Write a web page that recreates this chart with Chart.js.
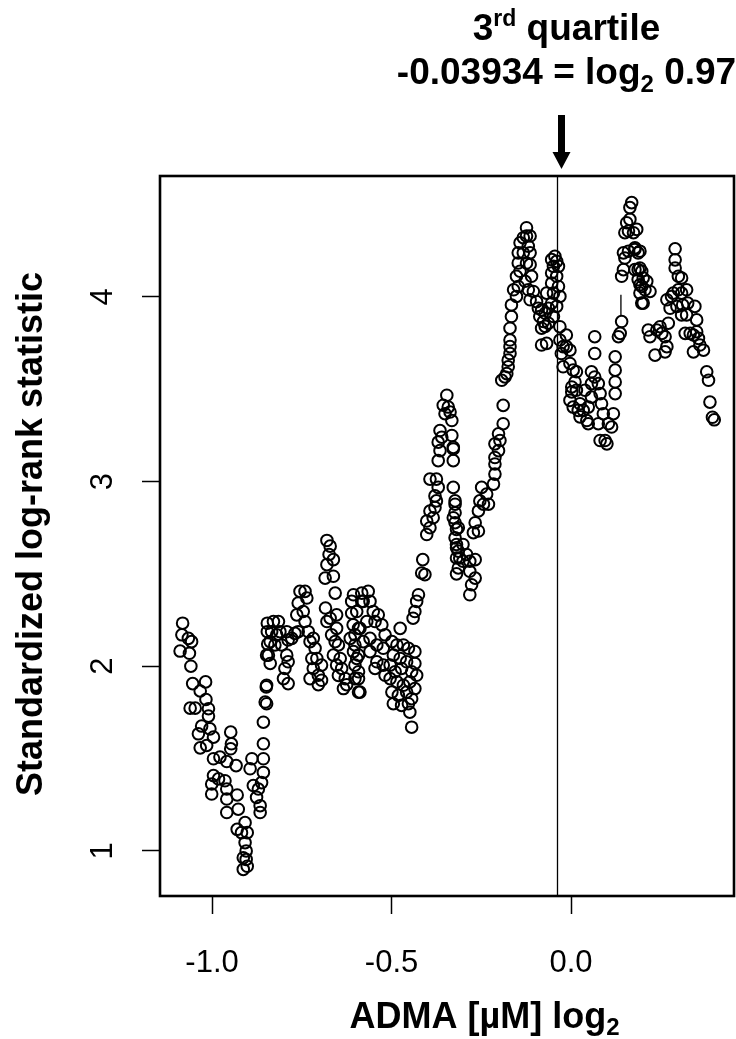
<!DOCTYPE html>
<html>
<head>
<meta charset="utf-8">
<script src="https://cdn.jsdelivr.net/npm/chart.js@4.4.1/dist/chart.umd.min.js"></script>
<style>
  html, body { margin: 0; padding: 0; background: #fff; }
  canvas { display: block; }
</style>
</head>
<body>
<canvas id="chart" width="736" height="1039" style="width:736px;height:1039px"></canvas>
<script>
// Statistique du log-rank standardisée selon le point de coupure ADMA (log2)

const xTicks = [-1.0, -0.5, 0.0];
const yTicks = [1, 2, 3, 4];
const xTickLabels = ['-1.0', '-0.5', '0.0'];
const yTickLabels = ['1', '2', '3', '4'];
const thirdQuartile = -0.03934;

// cutpoints (ADMA log2) and standardized log-rank statistic
const admaLog2 = [
  -1.082, -1.084, -1.066, -1.057, -1.089, -1.063, -1.059, -1.054, -1.018, -1.033,
  -1.017, -1.061, -1.047, -1.010, -1.010, -1.029, -1.006, -1.038, -0.996, -1.033,
  -1.015, -0.948, -0.946, -0.948, -0.996, -0.978, -0.959, -0.933, -0.996, -0.982,
  -1.001, -0.964, -0.959, -1.001, -0.959, -0.930, -0.959, -0.927, -0.930, -0.918,
  -0.908, -0.902, -0.908, -0.905, -0.913, -0.905, -0.913, -0.902, -0.894, -0.889,
  -0.885, -0.876, -0.866, -0.866, -0.871, -0.862, -0.857, -0.857, -0.857, -0.857,
  -0.852, -0.849, -0.848, -0.845, -0.846, -0.846,
  // -0.85 .. -0.58
  -0.848, -0.848, -0.838, -0.843, -0.838, -0.834, -0.829, -0.815, -0.820, -0.811,
  -0.825, -0.806, -0.792, -0.788, -0.792, -0.788, -0.797, -0.801, -0.788, -0.778,
  -0.769, -0.760, -0.764, -0.760, -0.755, -0.741, -0.736, -0.746, -0.741, -0.732,
  -0.727, -0.718, -0.713, -0.722, -0.708, -0.718, -0.727, -0.704, -0.695, -0.695,
  -0.704, -0.684, -0.680, -0.680, -0.671, -0.674, -0.662, -0.680, -0.685, -0.662,
  -0.657, -0.671, -0.653, -0.653, -0.667, -0.657, -0.648, -0.662, -0.643, -0.653,
  -0.639, -0.648, -0.629, -0.634, -0.625, -0.611, -0.611, -0.607, -0.615, -0.602,
  -0.592, -0.597, -0.602, -0.592, -0.592, -0.583, -0.583,
  // -0.61 .. -0.42
  -0.606, -0.597, -0.579, -0.565, -0.560, -0.551, -0.537, -0.527, -0.546, -0.569,
  -0.588, -0.602, -0.606, -0.592, -0.579, -0.560, -0.560, -0.541, -0.541, -0.523,
  -0.518, -0.602, -0.592, -0.588, -0.546, -0.523, -0.518, -0.476, -0.499, -0.485,
  -0.467, -0.453, -0.435, -0.495, -0.476, -0.458, -0.435, -0.504, -0.490, -0.472,
  -0.444, -0.430, -0.504, -0.485, -0.467, -0.449, -0.499, -0.481, -0.458, -0.444,
  -0.495, -0.472, -0.453, -0.449, -0.444, -0.435,
  // -0.44 .. -0.31
  -0.440, -0.435, -0.430, -0.425, -0.416, -0.407, -0.413, -0.402, -0.393, -0.402,
  -0.384, -0.393, -0.379, -0.375, -0.379, -0.370, -0.393, -0.375, -0.328, -0.323,
  -0.328, -0.314, -0.323, -0.319, -0.319, -0.314, -0.319,
  -0.346, -0.356, -0.342, -0.337, -0.351, -0.332, -0.365, -0.360, -0.370, -0.365,
  -0.370, -0.332, -0.328, -0.328,
  // -0.33 .. -0.05
  -0.328, -0.323, -0.323, -0.323, -0.319, -0.319, -0.314, -0.310, -0.301, -0.291,
  -0.282, -0.267, -0.282, -0.267, -0.277, -0.282, -0.301,
  -0.272, -0.267, -0.258, -0.258, -0.254, -0.244, -0.235, -0.249, -0.230, -0.216,
  -0.212, -0.212, -0.212, -0.202, -0.212, -0.198, -0.202, -0.189, -0.189, -0.193,
  -0.184, -0.179, -0.175, -0.175, -0.170, -0.170, -0.170, -0.170, -0.166, -0.166,
  -0.152, -0.160, -0.147, -0.152, -0.142, -0.147, -0.147, -0.142, -0.133, -0.124,
  -0.124, -0.114, -0.119, -0.133, -0.114, -0.124, -0.114, -0.110, -0.128, -0.119,
  -0.105, -0.114, -0.096, -0.091, -0.082, -0.087, -0.072, -0.077, -0.082, -0.072,
  -0.082, -0.068, -0.054,
  // -0.07 .. 0.20
  -0.045, -0.040, -0.049, -0.054, -0.035, -0.040, -0.054, -0.035, -0.049, -0.031,
  -0.054, -0.040, -0.063, -0.049, -0.063, -0.068, -0.031, -0.031, -0.013, -0.022,
  -0.013, -0.027, -0.003, -0.022, -0.003, 0.006, 0.015, 0.011, 0.002, 0.002,
  0.015, -0.003, 0.006, 0.025, 0.020, 0.034, 0.025, 0.044, 0.048, 0.076,
  0.081, 0.095, 0.104, 0.113, 0.118, 0.100, 0.057, 0.039, 0.057, 0.066,
  0.057, 0.076, 0.081, 0.066, 0.066, 0.048, 0.085, 0.090,
  0.123, 0.123, 0.123, 0.123, 0.132, 0.137, 0.141, 0.141, 0.146, 0.150,
  0.146, 0.160, 0.150, 0.160, 0.155, 0.164, 0.169, 0.164, 0.174, 0.178,
  0.187, 0.178, 0.192, 0.187, 0.197, 0.192, 0.197,
  // 0.18 .. 0.40
  0.183, 0.178, 0.192, 0.187, 0.197, 0.201, 0.192, 0.211, 0.206, 0.220,
  0.201, 0.215, 0.220, 0.234, 0.239, 0.248, 0.253, 0.262, 0.267, 0.262,
  0.271, 0.267, 0.276, 0.280, 0.285, 0.290, 0.299, 0.308, 0.290, 0.290,
  0.299, 0.308, 0.322, 0.295, 0.311, 0.325, 0.308, 0.322, 0.345, 0.318,
  0.332, 0.341, 0.350, 0.350, 0.355, 0.341, 0.359, 0.369, 0.378, 0.383,
  0.387, 0.394, 0.399
];

const logRankStat = [
  2.233, 2.170, 2.151, 2.133, 2.082, 2.070, 2.000, 1.906, 1.915, 1.866,
  1.820, 1.773, 1.773, 1.770, 1.730, 1.676, 1.661, 1.634, 1.616, 1.558,
  1.571, 1.643, 1.580, 1.553, 1.499, 1.508, 1.484, 1.462, 1.408, 1.390,
  1.362, 1.380, 1.335, 1.308, 1.281, 1.303, 1.208, 1.226, 1.117, 1.099,
  1.153, 1.099, 1.045, 1.000, 0.963, 0.954, 0.900, 0.917, 1.445, 1.499,
  1.354, 1.290, 1.245, 1.208, 1.335, 1.370, 1.425, 1.499, 1.580, 1.697,
  1.806, 1.888, 2.060, 2.120, 2.187, 2.233,
  // -0.85 .. -0.58
  1.797, 1.897, 2.015, 2.060, 2.133, 2.187, 2.242, 2.242, 2.170, 2.187,
  2.115, 2.115, 2.187, 2.142, 2.060, 2.024, 1.988, 1.933, 1.906, 2.151,
  2.178, 2.187, 2.278, 2.342, 2.405, 2.405, 2.369, 2.296, 2.242, 2.187,
  2.133, 2.151, 2.097, 2.042, 2.042, 1.988, 1.933, 1.951, 2.006, 1.924,
  1.900, 2.315, 2.242, 2.681, 2.650, 2.605, 2.577, 2.550, 2.477, 2.487,
  2.396, 2.260, 2.278, 2.205, 2.170, 2.133, 2.115, 2.060, 2.042, 2.006,
  1.988, 1.950, 1.933, 1.879, 1.900, 2.351, 2.287, 2.224, 2.151, 2.115,
  2.205, 2.042, 1.933, 1.970, 1.860, 2.351, 2.396,
  // -0.61 .. -0.42
  2.387, 2.296, 2.351, 2.405, 2.351, 2.296, 2.278, 2.224, 2.242, 2.242,
  2.205, 2.170, 2.079, 2.060, 2.133, 2.151, 2.079, 2.115, 2.024, 2.097,
  2.170, 2.006, 1.933, 1.860, 1.988, 2.006, 1.951, 2.205, 2.133, 2.115,
  2.115, 2.097, 2.079, 2.060, 2.042, 2.024, 2.015, 2.006, 1.970, 1.988,
  1.970, 1.951, 1.933, 1.915, 1.897, 1.915, 1.860, 1.842, 1.860, 1.824,
  1.797, 1.788, 1.797, 1.751, 1.670, 1.879,
  // -0.44 .. -0.31
  2.260, 2.296, 2.351, 2.387, 2.505, 2.496, 2.577, 2.713, 2.750, 2.786,
  2.804, 2.840, 2.859, 2.895, 2.922, 2.968, 3.013, 3.013, 2.968, 2.877,
  2.804, 2.750, 2.695, 2.641, 2.586, 2.532, 2.500,
  3.467, 3.413, 3.403, 3.376, 3.367, 3.330, 3.276, 3.240, 3.213, 3.167,
  3.113, 3.249, 3.185, 3.113,
  // -0.33 .. -0.05
  3.176, 2.895, 2.831, 2.777, 2.741, 2.659, 2.623, 2.586, 2.568, 2.605,
  2.568, 2.577, 2.514, 2.477, 2.441, 2.387, 2.659,
  2.723, 2.777, 2.732, 2.841, 2.895, 2.877, 2.932, 2.968, 2.877, 2.986,
  3.040, 3.095, 3.130, 3.167, 3.204, 3.222, 3.258, 3.313, 3.412, 3.548,
  3.566, 3.584, 3.621, 3.657, 3.693, 3.730, 3.766, 3.830, 3.893, 3.956,
  4.002, 4.038, 4.056, 4.111, 4.138, 4.183, 4.238, 4.292, 4.320, 4.329,
  4.374, 4.329, 4.274, 4.238, 4.238, 4.183, 4.174, 4.111, 4.084, 4.038,
  4.029, 3.984, 3.974, 3.938, 3.929, 3.893, 3.911, 3.866, 3.830, 3.840,
  3.739, 4.020, 4.201,
  // -0.07 .. 0.20
  4.219, 4.192, 4.165, 4.129, 4.165, 4.111, 4.074, 4.056, 4.020, 4.002,
  3.966, 3.948, 3.938, 3.893, 3.857, 3.748, 3.838, 3.766, 3.793, 3.730,
  3.730, 3.693, 3.711, 3.621, 3.639, 3.603, 3.594, 3.539, 3.512, 3.485,
  3.494, 3.439, 3.403, 3.421, 3.385, 3.385, 3.350, 3.330, 3.313, 3.313,
  3.222, 3.222, 3.313, 3.295, 3.367, 3.204, 3.457, 3.494, 3.530, 3.566,
  3.594, 3.530, 3.476, 3.693, 3.784, 3.403, 3.421, 3.367,
  3.476, 3.539, 3.603, 3.675, 3.784, 3.802, 3.866, 4.111, 4.147, 4.210,
  4.238, 4.247, 4.347, 4.356, 4.401, 4.419, 4.510, 4.483, 4.347, 4.265,
  4.238, 4.147, 4.156, 4.093, 4.056, 4.020, 3.966,
  // 0.18 .. 0.40
  4.365, 4.256, 4.247, 4.147, 4.138, 4.102, 4.065, 4.084, 4.038, 4.029,
  3.966, 3.820, 3.784, 3.684, 3.820, 3.838, 3.802, 3.702, 3.730, 3.784,
  3.857, 3.984, 3.938, 4.002, 4.020, 4.156, 4.111, 4.102, 4.260, 4.200,
  4.038, 4.020, 4.038, 3.948, 3.956, 3.966, 3.902, 3.902, 3.948, 3.802,
  3.802, 3.793, 3.875, 3.811, 3.775, 3.702, 3.739, 3.711, 3.594, 3.548,
  3.430, 3.348, 3.334
];

// petit trait vertical visible vers x = 0.14
const strayX = [0.139, 0.139];
const strayY = [4.011, 3.897];

const FONT = '"Liberation Sans", Arial, sans-serif';

function drawRuns(ctx, runs, cx, baseline) {
  let total = 0;
  runs.forEach(r => {
    ctx.font = `bold ${r.size}px ${FONT}`;
    r.w = ctx.measureText(r.t).width;
    total += r.w;
  });
  let x = cx - total / 2;
  ctx.textAlign = 'left';
  ctx.textBaseline = 'alphabetic';
  runs.forEach(r => {
    ctx.font = `bold ${r.size}px ${FONT}`;
    ctx.fillText(r.t, x, baseline + (r.dy || 0));
    x += r.w;
  });
}

const rFrame = {
  id: 'rFrame',
  afterDatasetsDraw(chart) {
    const { ctx, chartArea: a, scales: { x, y } } = chart;
    ctx.save();
    ctx.fillStyle = '#000';
    ctx.strokeStyle = '#000';

    // 3e quartile
    const qx = Math.round(x.getPixelForValue(thirdQuartile)) + 0.5;
    ctx.lineWidth = 1.3;
    ctx.beginPath();
    ctx.moveTo(qx, a.top);
    ctx.lineTo(qx, a.bottom);
    ctx.stroke();

    // cadre
    ctx.lineWidth = 2.6;
    ctx.strokeRect(a.left, a.top, a.right - a.left, a.bottom - a.top);

    // étiquettes des graduations
    ctx.font = `31px ${FONT}`;
    ctx.textAlign = 'center';
    ctx.textBaseline = 'alphabetic';
    xTicks.forEach((v, i) => {
      ctx.fillText(xTickLabels[i], x.getPixelForValue(v), a.bottom + 76);
    });
    ctx.textBaseline = 'middle';
    yTicks.forEach((v, i) => {
      ctx.save();
      ctx.translate(a.left - 57, y.getPixelForValue(v));
      ctx.rotate(-Math.PI / 2);
      ctx.fillText(yTickLabels[i], 0, 0);
      ctx.restore();
    });

    // titres des axes
    drawRuns(ctx, [
      { t: 'ADMA [\u00b5M] log', size: 36 },
      { t: '2', size: 24, dy: 7 }
    ], x.getPixelForValue(-0.241), a.bottom + 132);

    ctx.save();
    ctx.translate(a.left - 118, (a.top + a.bottom) / 2 - 2);
    ctx.rotate(-Math.PI / 2);
    drawRuns(ctx, [{ t: 'Standardized log-rank statistic', size: 36 }], 0, 0);
    ctx.restore();

    // annotation
    const tx = qx + 9;
    drawRuns(ctx, [
      { t: '3', size: 37 },
      { t: 'rd', size: 23, dy: -14 },
      { t: ' quartile', size: 37 }
    ], tx, 40);
    drawRuns(ctx, [
      { t: '-0.03934 = log', size: 37 },
      { t: '2', size: 24, dy: 8 },
      { t: ' 0.97', size: 37 }
    ], tx, 84);

    // flèche
    const ax = qx + 4;
    ctx.fillRect(ax - 3.5, 115, 7, 39);
    ctx.beginPath();
    ctx.moveTo(ax - 9, 152);
    ctx.lineTo(ax + 9, 152);
    ctx.lineTo(ax, 169);
    ctx.closePath();
    ctx.fill();

    ctx.restore();
  }
};

const tickGrid = {
  display: true,
  drawOnChartArea: false,
  drawTicks: true,
  tickLength: 18,
  tickWidth: 1.5,
  tickColor: '#000',
  color: '#000'
};

new Chart(document.getElementById('chart'), {
  type: 'scatter',
  data: {
    datasets: [
      {
        data: admaLog2.map((v, i) => ({ x: v, y: logRankStat[i] })),
        pointStyle: 'circle',
        pointRadius: 5.8,
        pointBorderWidth: 2,
        pointBorderColor: '#000',
        pointBackgroundColor: 'rgba(0,0,0,0)',
        showLine: false
      },
      {
        type: 'line',
        data: strayX.map((v, i) => ({ x: v, y: strayY[i] })),
        borderColor: '#000',
        borderWidth: 1.3,
        pointRadius: 0,
        showLine: true
      }
    ]
  },
  options: {
    responsive: false,
    animation: false,
    events: [],
    layout: { autoPadding: false, padding: { left: 0, top: 176, right: 2, bottom: 0 } },
    plugins: { legend: { display: false }, tooltip: { enabled: false } },
    scales: {
      x: {
        type: 'linear',
        min: -1.145,
        max: 0.454,
        afterBuildTicks: s => { s.ticks = xTicks.map(v => ({ value: v })); },
        afterFit: s => { s.height = 143; },
        ticks: { display: false },
        grid: tickGrid,
        border: { display: false }
      },
      y: {
        type: 'linear',
        min: 0.756,
        max: 4.654,
        afterBuildTicks: s => { s.ticks = yTicks.map(v => ({ value: v })); },
        afterFit: s => { s.width = 160; },
        ticks: { display: false },
        grid: tickGrid,
        border: { display: false }
      }
    }
  },
  plugins: [rFrame]
});
</script>
</body>
</html>
